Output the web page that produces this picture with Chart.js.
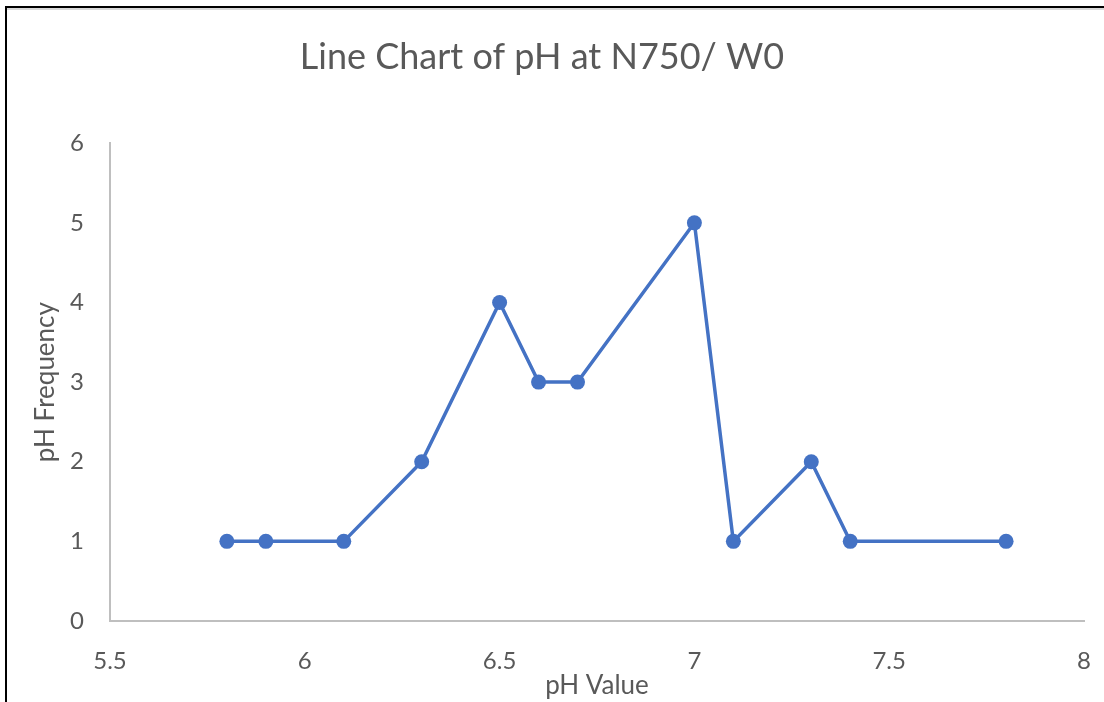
<!DOCTYPE html>
<html>
<head>
<meta charset="utf-8">
<script src="https://cdn.jsdelivr.net/npm/chart.js@4/dist/chart.umd.min.js"></script>
<style>
  html, body { margin: 0; padding: 0; background: #fff; }
  #wrap { position: relative; width: 1104px; height: 702px; }
</style>
</head>
<body>
<div id="wrap"><canvas id="phChart" width="1104" height="702"></canvas></div>
<script>
const phValues = [5.8, 5.9, 6.1, 6.3, 6.5, 6.6, 6.7, 7.0, 7.1, 7.3, 7.4, 7.8];
const phFrequency = [1, 1, 1, 2, 4, 3, 3, 5, 1, 2, 1, 1];
const xTicks = [5.5, 6, 6.5, 7, 7.5, 8];
const yTicks = [0, 1, 2, 3, 4, 5, 6];

const textColor = "#595959";
const axisColor = "#bfbfbf";
const lineColor = "#4472C4";
const font = "Lato";

// black frame at top/left of the screenshot
const framePlugin = {
    id: "frame",
    beforeDraw(chart) {
        const ctx = chart.ctx;
        ctx.save();
        ctx.fillStyle = "#fff";
        ctx.fillRect(0, 0, chart.width, chart.height);
        ctx.fillStyle = "#d9d9d9";
        ctx.fillRect(7, 8, chart.width, 2);
        ctx.fillStyle = "#000";
        ctx.fillRect(5, 6, chart.width, 2);
        ctx.fillRect(5, 6, 2, chart.height);
        ctx.restore();
    }
};

const points = phValues.map((x, i) => ({ x: x, y: phFrequency[i] }));

new Chart("phChart", {
    type: "line",
    data: {
        datasets: [{
            data: points,
            borderColor: lineColor,
            backgroundColor: lineColor,
            borderWidth: 3.5,
            pointRadius: 7.5,
            pointHoverRadius: 7.5,
            pointBorderWidth: 0,
            tension: 0
        }]
    },
    options: {
        responsive: false,
        animation: false,
        layout: { padding: { left: 0, right: 20, top: 0, bottom: 0 } },
        plugins: {
            legend: { display: false },
            tooltip: { enabled: false },
            title: {
                display: true,
                text: "Line Chart of pH at N750/ W0",
                color: textColor,
                font: { family: font, size: 36, weight: "normal" },
                padding: { top: 36, bottom: 64 }
            }
        },
        scales: {
            x: {
                type: "linear",
                min: 5.5,
                max: 8,
                afterBuildTicks(scale) {
                    scale.ticks = xTicks.map(v => ({ value: v }));
                },
                afterFit(scale) {
                    scale.height = 81;
                    scale.paddingLeft = 0;
                    scale.paddingRight = 0;
                },
                grid: { display: false },
                border: { display: true, color: axisColor, width: 2 },
                ticks: {
                    color: textColor,
                    font: { family: font, size: 24 },
                    padding: 18,
                    maxRotation: 0,
                    callback: v => String(v)
                },
                title: {
                    display: true,
                    text: "pH Value",
                    color: textColor,
                    font: { family: font, size: 26 },
                    padding: { top: 0, bottom: 1 }
                }
            },
            y: {
                min: 0,
                max: 6,
                afterBuildTicks(scale) {
                    scale.ticks = yTicks.map(v => ({ value: v }));
                },
                afterFit(scale) { scale.width = 110; },
                grid: { display: false },
                border: { display: true, color: axisColor, width: 2 },
                ticks: {
                    color: textColor,
                    font: { family: font, size: 24 },
                    padding: 18
                },
                title: {
                    display: true,
                    text: "pH Frequency",
                    color: textColor,
                    font: { family: font, size: 26 },
                    padding: { top: 30, bottom: 0 }
                }
            }
        }
    },
    plugins: [framePlugin]
});
</script>
</body>
</html>
